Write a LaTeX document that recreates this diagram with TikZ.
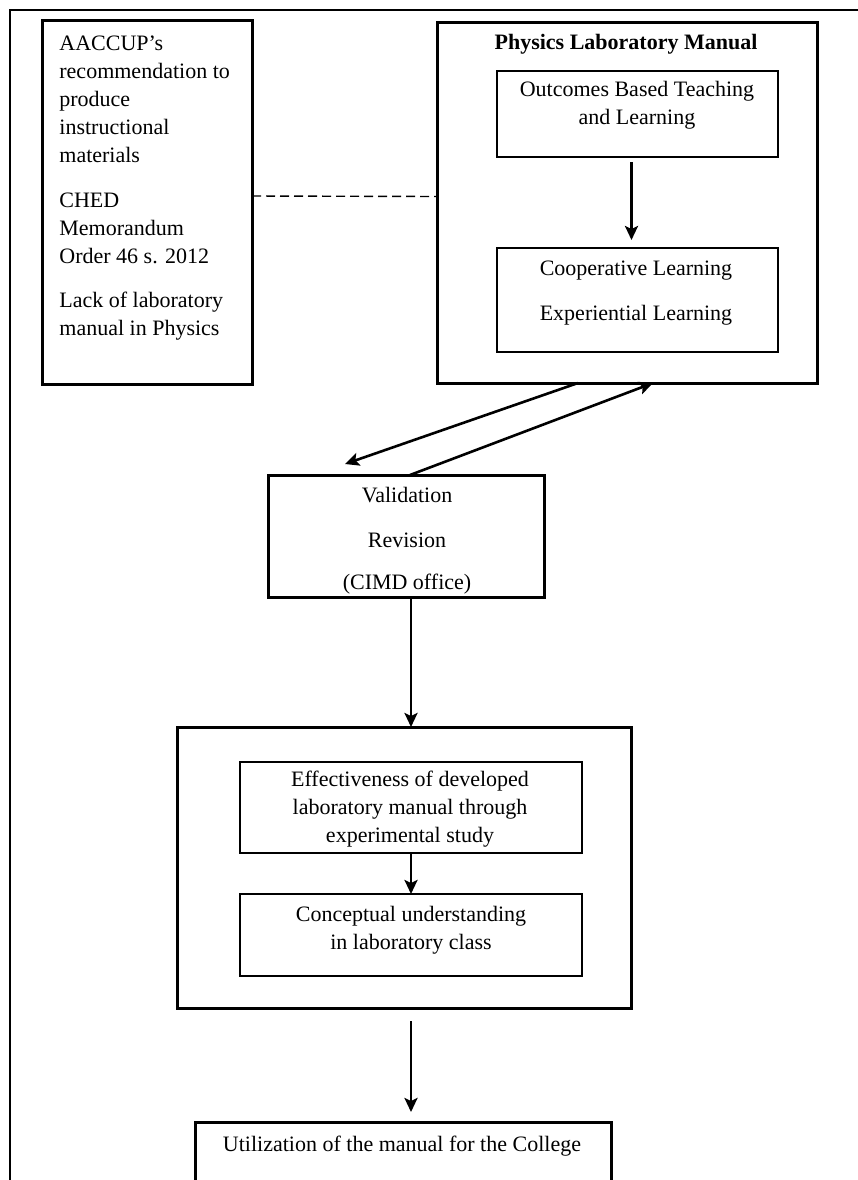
\documentclass[tikz,border=0pt]{standalone}
\usepackage{fontspec}
\setmainfont{Liberation Serif}
\usetikzlibrary{arrows.meta,calc}

\begin{document}
\begin{tikzpicture}[x=0.5pt, y=-0.5pt,
	box/.style={draw, line width=1.5pt, inner sep=0pt, outer sep=0pt},
	inbox/.style={draw, line width=0.7pt, inner sep=0pt, outer sep=0pt},
	txt/.style={inner sep=0pt, align=center, font=\fontsize{11}{14}\selectfont},
	arr/.style={-{Stealth[length=7pt, width=6.5pt, inset=1.5pt]}, line width=1.3pt}]

		\clip (0,0) rectangle (858,1180);

		% --- Page Frame ---
		\draw[line width=0.9pt] (858,10) -- (10,10) -- (10,1180);

		% --- Boxes ---
		\node[box, minimum width=105pt, minimum height=182pt] (drivers) at (147,202) {};
		\node[box, minimum width=190pt, minimum height=180.5pt] (manual) at (627,202.5) {};
		\node[inbox, minimum width=140.5pt, minimum height=43pt] (obtl) at (637.5,114) {};
		\node[inbox, minimum width=140.5pt, minimum height=52pt] (coop) at (637.5,300) {};
		\node[box, minimum width=138pt, minimum height=61pt] (valid) at (406,536) {};
		\node[box, minimum width=227pt, minimum height=140.5pt] (study) at (404,867.5) {};
		\node[inbox, minimum width=171pt, minimum height=45.5pt] (effect) at (411,807.5) {};
		\node[inbox, minimum width=171pt, minimum height=41pt] (concept) at (411,935) {};
		\node[box, minimum width=208pt, minimum height=40pt] (util) at (403,1162) {};

		% --- Texts (anchored at the baseline of the last line) ---
		\node[txt, anchor=base west, align=left] (drvtxt) at (59,335) {AACCUP’s\\ recommendation to\\ produce\\ instructional\\ materials\\[8.5pt] CHED\\ Memorandum\\ Order 46 s. 2012\\[8pt] Lack of laboratory\\ manual in Physics};
		\node[txt, font=\bfseries\fontsize{11}{14}\selectfont, anchor=base] (title) at (626,49) {Physics Laboratory Manual};
		\node[txt, anchor=base] (obtltxt) at (637,124) {Outcomes Based Teaching\\ and Learning};
		\node[txt, anchor=base] (cooptxt) at (636,320) {Cooperative Learning\\[8.5pt] Experiential Learning};
		\node[txt, anchor=base] (validtxt) at (407,589) {Validation\\[8.5pt] Revision\\[7pt] (CIMD office)};
		\node[txt, anchor=base] (effecttxt) at (410,842) {Effectiveness of developed\\ laboratory manual through\\ experimental study};
		\node[txt, anchor=base] (concepttxt) at (411,949) {Conceptual understanding\\ in laboratory class};
		\node[txt, anchor=base] (utiltxt) at (402,1151) {Utilization of the manual for the College};

		% --- Connectors ---
		\draw[line width=0.7pt, dash pattern=on 4.5pt off 2.5pt] ($(drivers.east)+(0,-6)$) -- ($(manual.west)+(0,-6)$);
		\draw[arr] ($(obtl.south)+(-6,5)$) -- ($(coop.north)+(-6,-8)$);
		\draw[arr] ($(manual.south)+(-49,0)$) -- ($(valid.north)+(-61,-11)$);
		\draw[arr] ($(valid.north)+(4,0)$) -- ($(manual.south)+(26,0)$);
		\draw[arr] ($(valid.south)+(5,0)$) -- ($(valid.south |- study.north)+(5,0)$);
		\draw[arr] (effect.south) -- (concept.north);
		\draw[arr] ($(study.south)+(7,13)$) -- ($(study.south |- util.north)+(7,-10)$);

	\end{tikzpicture}
\end{document}
